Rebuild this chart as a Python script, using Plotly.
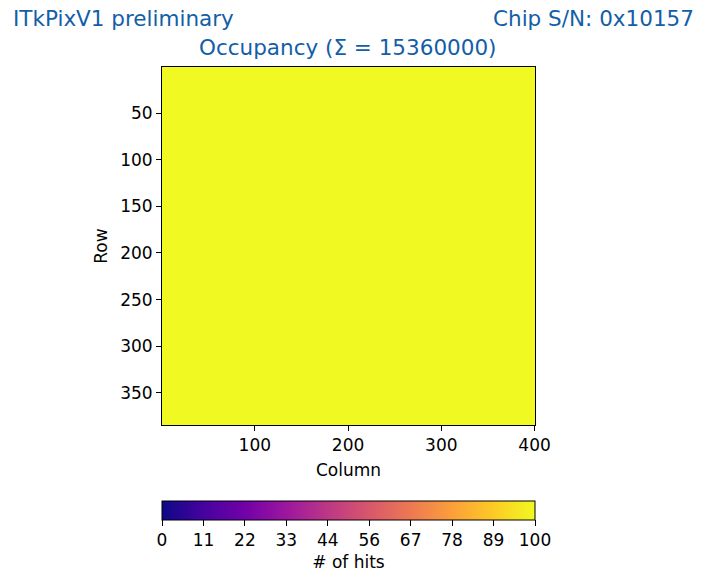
import plotly.graph_objects as go

# Data
n_rows = 384
n_cols = 400
hits_per_pixel = 100
columns = list(range(1, n_cols + 1))
rows = list(range(1, n_rows + 1))
z = [[hits_per_pixel] * n_cols for _ in range(n_rows)]
total_hits = n_rows * n_cols * hits_per_pixel
cbar_ticks = [i * 100 / 9 for i in range(10)]
cbar_labels = [str(int(round(v))) for v in cbar_ticks]

W, H = 701, 573
title_color = "#135ea8"
font_family = "DejaVu Sans"

px_l, px_r, px_t, px_b = 162, 535, 67, 425

fig = go.Figure(go.Heatmap(
    z=z, x=columns, y=rows,
    colorscale="Plasma", zmin=0, zmax=100,
    colorbar=dict(
        orientation="h",
        xanchor="left", x=px_l / W,
        yanchor="top", y=1 - 501 / H,
        lenmode="pixels", len=px_r - px_l,
        thicknessmode="pixels", thickness=19,
        xpad=0, ypad=0,
        outlinewidth=1, outlinecolor="black",
        tickmode="array", tickvals=cbar_ticks, ticktext=cbar_labels,
        ticks="outside", ticklen=6, tickcolor="black",
        tickfont=dict(size=17, color="black", family=font_family),
        title=dict(text="# of hits", side="bottom",
                   font=dict(size=17, color="black", family=font_family)),
    ),
    hoverinfo="skip",
))

axis_common = dict(
    showline=True, mirror=True, linecolor="black", linewidth=1,
    ticks="outside", ticklen=5, tickcolor="black",
    showgrid=False, zeroline=False,
    tickfont=dict(size=17, color="black", family=font_family),
)

fig.update_layout(
    width=W, height=H,
    margin=dict(l=0, r=0, t=0, b=0, autoexpand=False),
    paper_bgcolor="white", plot_bgcolor="white",
    font=dict(family=font_family, color="black"),
    xaxis=dict(domain=[px_l / W, px_r / W], range=[0.5, 400.5],
               tickvals=[100, 200, 300, 400],
               title=dict(text="Column", font=dict(size=17), standoff=9),
               **axis_common),
    yaxis=dict(domain=[1 - px_b / H, 1 - px_t / H], range=[384.5, 0.5],
               tickvals=[50, 100, 150, 200, 250, 300, 350],
               title=dict(text="Row", font=dict(size=17), standoff=8),
               **axis_common),
    annotations=[
        dict(text="ITkPixV1 preliminary", xref="paper", yref="paper",
             x=11 / W, y=1 - 18 / H, xanchor="left", yanchor="middle",
             showarrow=False, font=dict(size=21.5, color=title_color)),
        dict(text="Chip S/N: 0x10157", xref="paper", yref="paper",
             x=696 / W, y=1 - 18 / H, xanchor="right", yanchor="middle",
             showarrow=False, font=dict(size=21.5, color=title_color)),
        dict(text=f"Occupancy (\u03a3 = {total_hits})", xref="paper", yref="paper",
             x=348 / W, y=1 - 48 / H, xanchor="center", yanchor="middle",
             showarrow=False, font=dict(size=21.5, color=title_color)),
    ],
)

fig.write_html("out.html")
